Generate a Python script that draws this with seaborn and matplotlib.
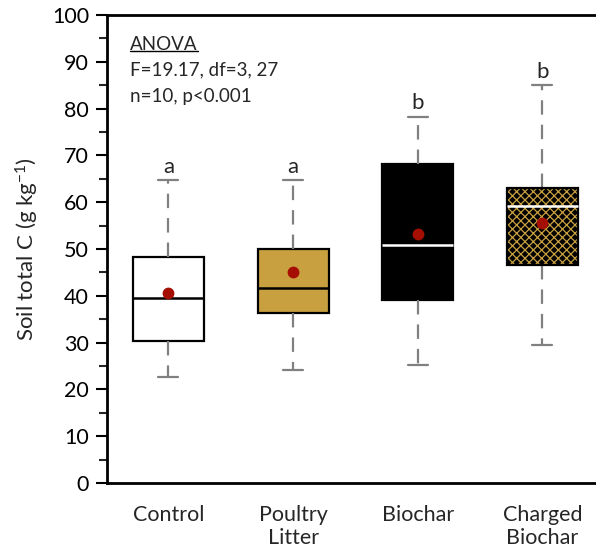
import numpy as np
import pandas as pd
import matplotlib
matplotlib.use("Agg")
import matplotlib.pyplot as plt
from matplotlib.patches import PathPatch
from matplotlib.lines import Line2D
import seaborn as sns

# ---- data ----
categories = ["Control", "Poultry\nLitter", "Biochar", "Charged\nBiochar"]
whisker_low = [22.7, 24.2, 25.2, 29.5]
q1 = [30.4, 36.3, 39.0, 46.6]
median = [39.5, 41.7, 50.8, 59.2]
q3 = [48.2, 50.1, 68.2, 63.0]
whisker_high = [64.7, 64.7, 78.3, 85.0]
means = [40.7, 45.0, 53.1, 55.6]
letters = ["a", "a", "b", "b"]
y_ticks = [0, 10, 20, 30, 40, 50, 60, 70, 80, 90, 100]
anova_lines = ["ANOVA", "F=19.17, df=3, 27", "n=10, p<0.001"]

fill_colors = ["#FFFFFF", "#C9A040", "#000000", "#000000"]
median_colors = ["#000000", "#000000", "#FFFFFF", "#FFFFFF"]
gold = "#C9A040"
mean_color = "#A50E02"
whisker_gray = "#808080"

# long-form table: five summary values per group
rows = []
for c, lo, a, m, b, hi in zip(categories, whisker_low, q1, median, q3, whisker_high):
    for v in (lo, a, m, b, hi):
        rows.append({"group": c, "value": v})
df = pd.DataFrame(rows)

sns.set_style("white")
plt.rcParams["font.family"] = ["Lato", "DejaVu Sans"]
plt.rcParams["mathtext.default"] = "regular"
plt.rcParams["hatch.linewidth"] = 0.9

fig = plt.figure(figsize=(5.96, 5.5), dpi=100)
ax = fig.add_axes([107 / 596, 67 / 550, 489 / 596, 468 / 550])

sns.boxplot(
    data=df, x="group", y="value", hue="group", order=categories,
    hue_order=categories, palette=fill_colors, whis=(0, 100), width=0.57,
    linewidth=1.6, linecolor="black", showfliers=False, legend=False,
    whiskerprops={"color": whisker_gray, "linewidth": 1.6, "linestyle": (0, (6.5, 4.5))},
    capprops={"color": whisker_gray, "linewidth": 1.6},
    medianprops={"linewidth": 1.8},
    capwidths=0.16,
    ax=ax,
)

for i, cont in enumerate(ax.containers):
    for med in cont.medians:
        med.set_color(median_colors[i])
    for box in cont.boxes:
        box.set_edgecolor("black")
        box.set_facecolor(fill_colors[i])
    if i == 3:
        for box in cont.boxes:
            box.set_hatch("xxxx")
            if hasattr(box, "set_hatchcolor"):
                box.set_hatchcolor(gold)
            else:
                box.set_edgecolor(gold)
                box.set_linewidth(0)
                outline = PathPatch(box.get_path(), facecolor="none",
                                    edgecolor="black", linewidth=1.6,
                                    transform=box.get_transform(), zorder=box.get_zorder() + 0.1)
                ax.add_patch(outline)
        for med in cont.medians:
            med.set_zorder(4)

sns.pointplot(
    x=categories, y=means, order=categories, color=mean_color,
    errorbar=None, linestyle="none", marker="o", markersize=8.5,
    markeredgewidth=0, ax=ax, zorder=6,
)

for i, (hi, lab) in enumerate(zip(whisker_high, letters)):
    ax.text(i, hi + 0.7, lab, ha="center", va="bottom", fontsize=16)

ax.set_xlim(-0.493, 3.43)
ax.set_ylim(0, 100)
ax.set_yticks(y_ticks)
ax.yaxis.set_minor_locator(matplotlib.ticker.MultipleLocator(5))
ax.tick_params(axis="y", which="major", length=8, width=1.5, labelsize=15.5,
               direction="out", left=True, pad=5, colors="black")
ax.tick_params(axis="y", which="minor", length=6, width=1.5, direction="out", left=True)
ax.tick_params(axis="x", length=0, labelsize=15.5, pad=16)
ax.set_xticks(range(len(categories)))
ax.set_xticklabels(categories, linespacing=1.2)
ax.set_xlabel("")
ax.set_ylabel("Soil total C (g kg$^{-1}$)", fontsize=16, labelpad=8)

for s in ["top", "bottom", "left"]:
    ax.spines[s].set_visible(True)
    ax.spines[s].set_linewidth(2)
    ax.spines[s].set_color("black")
ax.spines["right"].set_visible(False)

ys = [0.936, 0.882, 0.825]
texts = []
for txt, yy in zip(anova_lines, ys):
    t = ax.text(0.047, yy, txt, transform=ax.transAxes, ha="left", va="center", fontsize=13.5)
    texts.append(t)

fig.canvas.draw()
bb = texts[0].get_window_extent(renderer=fig.canvas.get_renderer())
inv = fig.transFigure.inverted()
(x0, y0), (x1, y1) = inv.transform([(bb.x0, bb.y0 + 2), (bb.x1, bb.y0 + 2)])
fig.add_artist(Line2D([x0, x1], [y0, y1], color="black", linewidth=1.0))

fig.savefig("out.png", dpi=100)
